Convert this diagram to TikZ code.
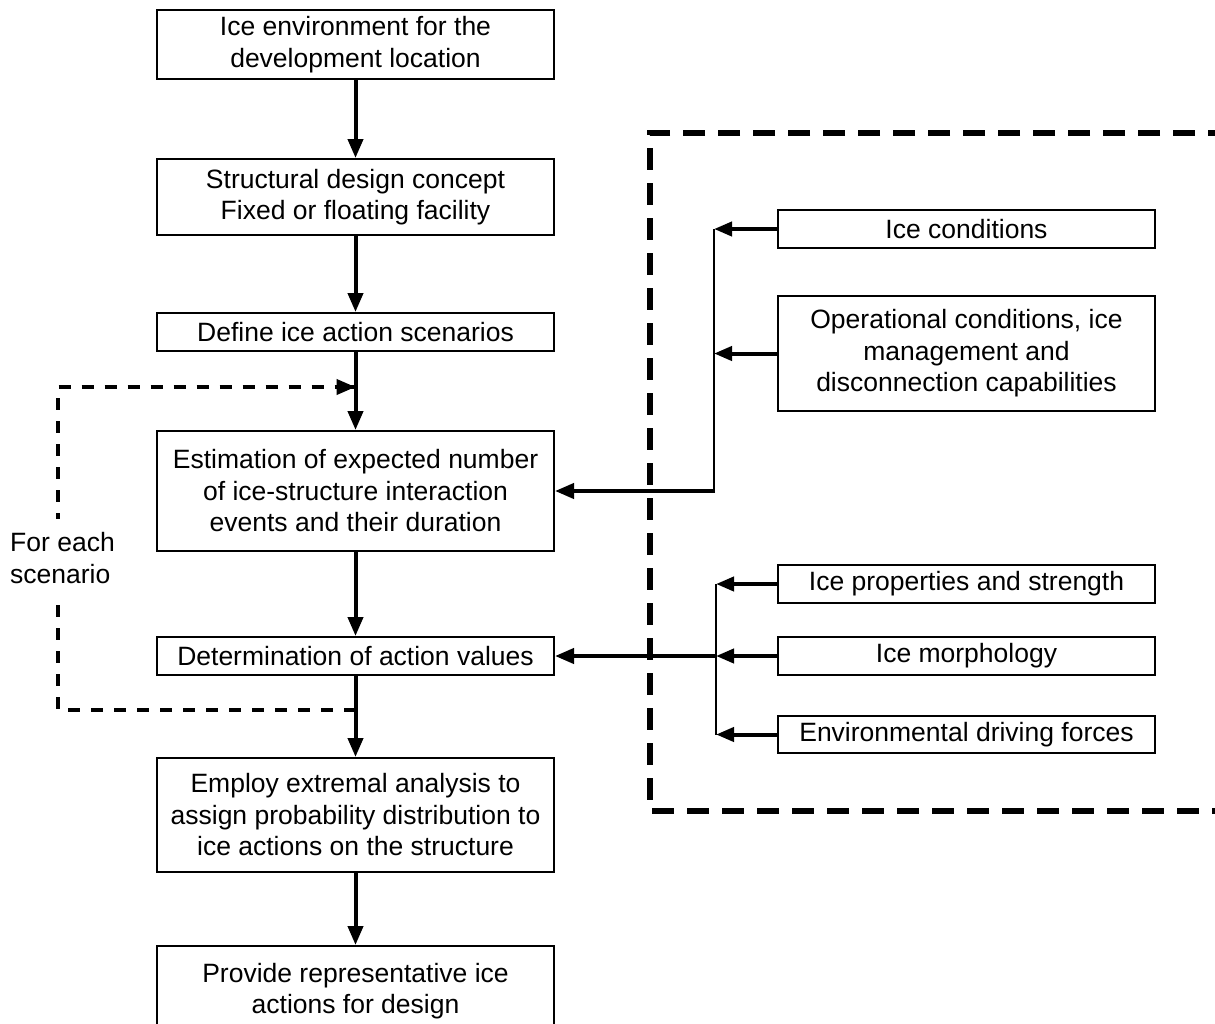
\documentclass[tikz,border=0pt]{standalone}
\usepackage{fontspec}
\setmainfont{Liberation Sans}
\usetikzlibrary{arrows.meta}
\tikzset{
  box/.style={draw, line width=2pt, rectangle, inner sep=0pt, align=center,
    font=\fontsize{26.5}{31.5}\selectfont},
  lbox/.style={box, minimum width=397pt},
  rbox/.style={box, minimum width=377pt},
  flow/.style={line width=4pt, -{Triangle[length=19pt,width=15pt]}},
  feed/.style={line width=4pt, -{Triangle[length=18pt,width=14pt]}},
  loop/.style={line width=4pt, dash pattern=on 12pt off 11pt},
  region/.style={line width=5.5pt, dash pattern=on 22pt off 13pt},
}
\begin{document}
\begin{tikzpicture}[x=1pt,y=-1pt]
\clip (0,0) rectangle (1215,1023);
% left column
\node[lbox, minimum height=69pt] (b1) at (355.5,44.5) {Ice environment for the\\development location};
\node[lbox, minimum height=76pt] (b2) at (355.5,197) {Structural design concept\\Fixed or floating facility};
\node[lbox, minimum height=38pt] (b3) at (355.5,332) {Define ice action scenarios};
\node[lbox, minimum height=120pt] (b4) at (355.5,491) {Estimation of expected number\\of ice-structure interaction\\events and their duration};
\node[lbox, minimum height=38pt] (b5) at (355.5,656) {Determination of action values};
\node[lbox, minimum height=114pt] (b6) at (355.5,815) {Employ extremal analysis to\\assign probability distribution to\\ice actions on the structure};
\node[lbox, minimum height=90pt] (b7) at (355.5,991) {Provide representative ice\\actions for design};
% right column
\node[rbox, minimum height=38pt] (r1) at (966.5,229) {Ice conditions};
\node[rbox, minimum height=115pt] (r2) at (966.5,353.5) {Operational conditions, ice\\management and\\disconnection capabilities};
\node[rbox, minimum height=38pt] (r3) at (966.5,584) {Ice properties and strength};
\node[rbox, minimum height=38pt] (r4) at (966.5,656) {Ice morphology};
\node[rbox, minimum height=37pt] (r5) at (966.5,734.5) {Environmental driving forces};
% dashed region
\draw[region] (1230,133) -- (650,133) -- (650,811) -- (1230,811);
% main flow
\draw[flow] (b1) -- (b2);
\draw[flow] (b2) -- (b3);
\draw[flow] (b3) -- (b4);
\draw[flow] (b4) -- (b5);
\draw[flow] (b5) -- (b6);
\draw[flow] (b6) -- (b7);
% loop
\coordinate (lp1) at (355.5,710);
\coordinate (lp2) at (58,710);
\coordinate (lp3) at (58,387);
\coordinate (lp4) at (355.5,387);
\draw[loop] (lp1) -- (lp2) -- (lp3) -- (lp4);
\draw[-{Triangle[length=19pt,width=15pt]}, line width=4pt] ([xshift=-2pt]lp4) -- (lp4);
% loop label (white background interrupts the dashed line)
\node[anchor=west, align=left, inner xsep=0pt, inner ysep=14pt, fill=white, font=\fontsize{26.5}{31.5}\selectfont] (lab) at (10,558) {For each\\scenario};
% upper bus
\coordinate (ua) at (714,229);
\coordinate (ub) at (714,353.5);
\coordinate (uc) at (714,491);
\draw[feed] (r1.west) -- (ua);
\draw[feed] (r2.west) -- (ub);
\draw[line width=2.4pt] (ua) -- (uc);
\draw[flow] ([xshift=1.2pt]uc) -- (b4.east);
% lower bus
\coordinate (la) at (716,584);
\coordinate (lb) at (716,656);
\coordinate (lc) at (716,734.5);
\draw[feed] (r3.west) -- (la);
\draw[feed] (r4.west) -- (lb);
\draw[feed] (r5.west) -- (lc);
\draw[line width=1.2pt] (la) -- (lc);
\draw[flow] (lb) -- (b5.east);
\end{tikzpicture}
\end{document}
